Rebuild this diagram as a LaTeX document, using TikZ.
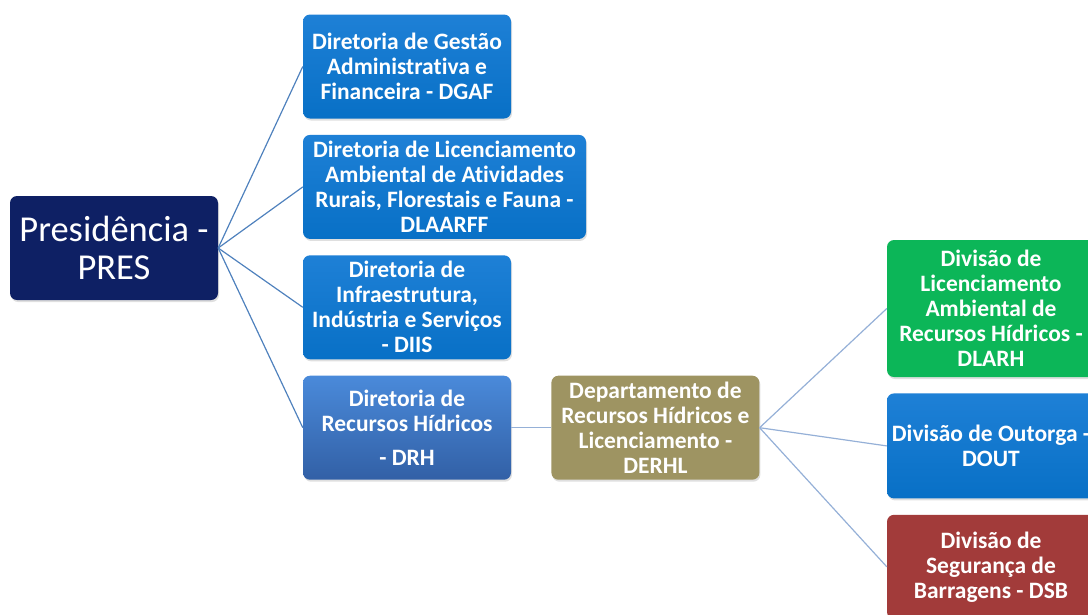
\documentclass[tikz,border=0pt]{standalone}
\usepackage{fontspec}
\setmainfont{Carlito}[Ligatures={NoCommon}]
\usetikzlibrary{positioning,shadows}
\definecolor{presnavy}{RGB}{14,32,100}
\definecolor{dirblue}{RGB}{8,112,198}
\definecolor{dirbluetop}{RGB}{30,128,214}
\definecolor{drhtop}{RGB}{74,138,218}
\definecolor{drhbot}{RGB}{50,96,166}
\definecolor{deptolive}{RGB}{158,148,98}
\definecolor{divgreen}{RGB}{12,182,88}
\definecolor{divred}{RGB}{162,59,58}
\definecolor{linkblue}{RGB}{79,129,189}
\definecolor{linklight}{RGB}{149,176,215}

\begin{document}
\begin{tikzpicture}[x=1pt,y=-1pt,
  box/.style={rounded corners=7pt,text=white,align=center,inner sep=2pt,
              minimum width=208pt,minimum height=104pt,
              font=\bfseries\fontsize{23.5}{25}\selectfont,
              drop shadow={opacity=0.25,shadow xshift=1pt,shadow yshift=-2pt}},
  dir/.style={box,top color=dirbluetop,bottom color=dirblue},
  link/.style={draw=linkblue,line width=1.2pt},
  sublink/.style={draw=linklight,line width=1.2pt},
  node distance=16pt,
]
\useasboundingbox (0,0) rectangle (1088,614);

\node[box,fill=presnavy,font=\fontsize{36.5}{38}\selectfont] (pres) at (114,248)
  {Presidência -\\PRES};
\node[dir] (dgaf) at (407,66.5)
  {Diretoria de Gestão\\Administrativa e\\Financeira - DGAF};
\node[dir,minimum width=283pt,below=of dgaf.south west,anchor=north west] (dlaarff)
  {Diretoria de Licenciamento\\Ambiental de Atividades\\Rurais, Florestais e Fauna -\\DLAARFF};
\node[dir,below=of dlaarff.south west,anchor=north west] (diis)
  {Diretoria de\\Infraestrutura,\\Indústria e Serviços\\- DIIS};
\node[box,top color=drhtop,bottom color=drhbot,below=of diis] (drh)
  {Diretoria de\\Recursos Hídricos\\[9pt]- DRH};
\node[box,fill=deptolive,right=40pt of drh] (derhl)
  {Departamento de\\Recursos Hídricos e\\Licenciamento -\\DERHL};

\node[box,fill=divgreen,minimum height=137pt] (dlarh) at (991,308.5)
  {Divisão de\\Licenciamento\\Ambiental de\\Recursos Hídricos -\\DLARH};
\node[box,top color=dirbluetop,bottom color=dirblue,minimum height=105pt,below=of dlarh] (dout)
  {Divisão de Outorga -\\DOUT};
\node[box,fill=divred,below=of dout] (dsb)
  {Divisão de\\Segurança de\\Barragens - DSB};

% ligacoes
\foreach \d in {dgaf,dlaarff,diis,drh}
  \draw[link] (pres.east) -- (\d.west);
\draw[sublink] (drh.east) -- (derhl.west);
\foreach \d in {dlarh,dout,dsb}
  \draw[sublink] (derhl.east) -- (\d.west);
\end{tikzpicture}
\end{document}
